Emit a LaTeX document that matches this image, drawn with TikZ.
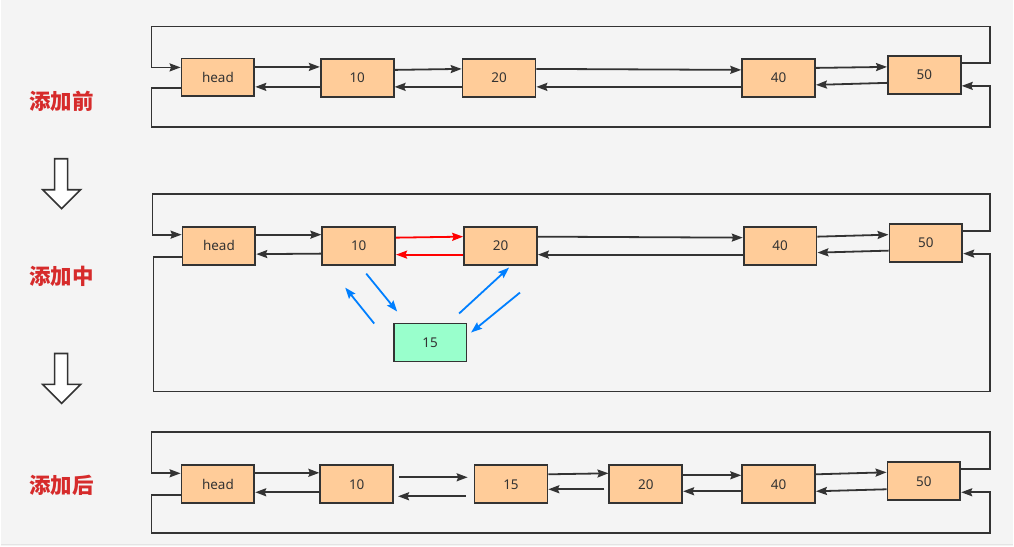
\documentclass[tikz,border=0pt]{standalone}
\usepackage{fontspec}
\setsansfont{Noto Sans}
\newfontfamily\cjk{Noto Sans CJK SC}
\usetikzlibrary{arrows.meta}
\definecolor{bg}{HTML}{F4F4F4}
\definecolor{ink}{HTML}{333333}
\definecolor{boxfill}{HTML}{FFCC99}
\definecolor{newfill}{HTML}{99FFCC}
\definecolor{lbl}{HTML}{D62B2B}
\definecolor{bluearr}{HTML}{007FFF}
\definecolor{redarr}{HTML}{FF0000}
\definecolor{edge}{HTML}{E4E4E4}
\tikzset{
  listnode/.style={draw=ink, line width=1.8pt, fill=boxfill, minimum width=73pt, minimum height=38pt, inner sep=0pt, font=\sffamily\fontsize{13.5}{13.5}\selectfont, text=ink},
  newnode/.style={listnode, fill=newfill},
  arr/.style={draw=ink, line width=1.8pt, -{Stealth[length=11pt,width=8pt,inset=1.5pt]}},
  redar/.style={arr, draw=redarr},
  bluear/.style={arr, draw=bluearr},
  stagelabel/.style={font=\cjk\bfseries\fontsize{21.5}{21.5}\selectfont, text=lbl},
  hollow/.style={draw=ink, line width=1.6pt, fill=white},
}
\begin{document}
\begin{tikzpicture}[x=1pt,y=-1pt]
\fill[bg] (0,0) rectangle (1014,547);
\draw[edge, line width=1.5pt] (0,545.5) -- (1014,545.5);
\useasboundingbox (0,0) rectangle (1014,547);

% labels
\node[stagelabel] (L1) at (61,101) {添加前};
\node[stagelabel] (L2) at (61,277) {添加中};
\node[stagelabel] (L3) at (61,486) {添加后};
\draw[hollow] (54,159) -- (67,159) -- (67,190) -- (80,190) -- (61,209) -- (42,190) -- (54,190) -- cycle;
\draw[hollow] (54,354) -- (67,354) -- (67,385) -- (80,385) -- (61,404) -- (42,385) -- (54,385) -- cycle;

% ---------- row 1 ----------
\node[listnode] (h1) at (217.5,77.5) {head};
\node[listnode] (a1) at (357,78) {10};
\node[listnode] (b1) at (499,78) {20};
\node[listnode] (c1) at (779,78) {40};
\node[listnode] (d1) at (925,75) {50};
\draw[arr] ([yshift=12pt]d1.east) -- (991,63) -- (991,26.5) -- (151,26.5) -- (151,67.5) -- ([yshift=10pt]h1.west);
\draw[arr] ([yshift=-11pt]h1.west) -- (151,88.5) -- (151,127) -- (991,127) -- (991,86) -- ([yshift=-11pt]d1.east);
\draw[arr] ([yshift=10.5pt]h1.east) -- ([yshift=11pt]a1.west);
\draw[arr] ([yshift=-9pt]a1.west) -- ([yshift=-9.5pt]h1.east);
\draw[arr] ([yshift=8pt]a1.east) -- ([yshift=9pt]b1.west);
\draw[arr] ([yshift=-9pt]b1.west) -- ([yshift=-9pt]a1.east);
\draw[arr] ([yshift=9pt]b1.east) -- ([yshift=8pt]c1.west);
\draw[arr] ([yshift=-9pt]c1.west) -- ([yshift=-9pt]b1.east);
\draw[arr] ([yshift=10pt]c1.east) -- ([yshift=8pt]d1.west);
\draw[arr] ([yshift=-8pt]d1.west) -- ([yshift=-7pt]c1.east);

% ---------- row 2 ----------
\node[listnode] (h2) at (218.5,246) {head};
\node[listnode] (a2) at (358.5,246) {10};
\node[listnode] (b2) at (500.5,246) {20};
\node[listnode] (c2) at (780.5,246) {40};
\node[listnode] (d2) at (926.5,243) {50};
\node[newnode]  (e2) at (430,343) {15};
\draw[arr] ([yshift=12pt]d2.east) -- (991,231) -- (991,194.5) -- (152,194.5) -- (152,235) -- ([yshift=11pt]h2.west);
\draw[arr] ([yshift=-11pt]h2.west) -- (153,257) -- (153,392) -- (991,392) -- (991,254) -- ([yshift=-11pt]d2.east);
\draw[arr] ([yshift=11pt]h2.east) -- ([yshift=11pt]a2.west);
\draw[arr] ([yshift=-8pt]a2.west) -- ([yshift=-8.5pt]h2.east);
\draw[redar] ([yshift=8pt]a2.east) -- ([yshift=9pt]b2.west);
\draw[redar] ([yshift=-9pt]b2.west) -- ([yshift=-9pt]a2.east);
\draw[arr] ([yshift=9pt]b2.east) -- ([yshift=8pt]c2.west);
\draw[arr] ([yshift=-9pt]c2.west) -- ([yshift=-9pt]b2.east);
\draw[arr] ([yshift=9pt]c2.east) -- ([yshift=8pt]d2.west);
\draw[arr] ([yshift=-8pt]d2.west) -- ([yshift=-7pt]c2.east);
% blue arrows (free)
\coordinate (p1s) at (366,274); \coordinate (p1e) at (397,312);
\coordinate (p2s) at (374,324); \coordinate (p2e) at (345,288);
\coordinate (p3s) at (459,314); \coordinate (p3e) at (509,268);
\coordinate (p4s) at (520,293); \coordinate (p4e) at (471,333);
\draw[bluear] (p1s) -- (p1e);
\draw[bluear] (p2s) -- (p2e);
\draw[bluear] (p3s) -- (p3e);
\draw[bluear] (p4s) -- (p4e);

% ---------- row 3 ----------
\node[listnode] (h3) at (217.5,485) {head};
\node[listnode] (a3) at (356.5,485) {10};
\node[listnode] (e3) at (511,485) {15};
\node[listnode] (b3) at (646,485) {20};
\node[listnode] (c3) at (779,485) {40};
\node[listnode] (d3) at (924.5,482) {50};
\draw[arr] ([yshift=12pt]d3.east) -- (991,470) -- (991,433) -- (151,433) -- (151,474) -- ([yshift=11pt]h3.west);
\draw[arr] ([yshift=-11pt]h3.west) -- (151,496) -- (151,534) -- (991,534) -- (991,493) -- ([yshift=-11pt]d3.east);
\draw[arr] ([yshift=11.5pt]h3.east) -- ([yshift=11.5pt]a3.west);
\draw[arr] ([yshift=-8pt]a3.west) -- ([yshift=-8pt]h3.east);
\draw[arr, shorten <=5pt, shorten >=6pt] ([yshift=7pt]a3.east) -- ([yshift=7pt]e3.west);
\draw[arr, shorten <=8pt, shorten >=4pt] ([yshift=-12pt]e3.west) -- ([yshift=-12pt]a3.east);
\draw[arr] ([yshift=10pt]e3.east) -- ([yshift=11pt]b3.west);
\draw[arr, shorten <=4pt] ([yshift=-5pt]b3.west) -- ([yshift=-5pt]e3.east);
\draw[arr] ([yshift=9pt]b3.east) -- ([yshift=9pt]c3.west);
\draw[arr] ([yshift=-7pt]c3.west) -- ([yshift=-7pt]b3.east);
\draw[arr] ([yshift=10pt]c3.east) -- ([yshift=9pt]d3.west);
\draw[arr] ([yshift=-8pt]d3.west) -- ([yshift=-7pt]c3.east);
\end{tikzpicture}
\end{document}
